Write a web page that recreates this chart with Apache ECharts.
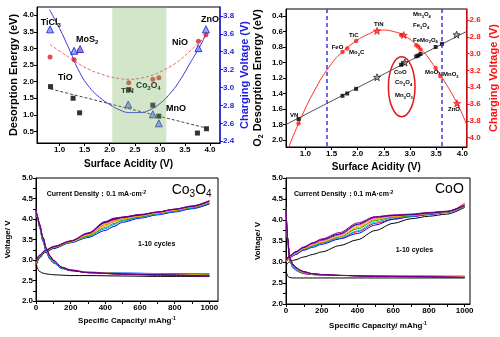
<!DOCTYPE html>
<html><head><meta charset="utf-8">
<script src="https://cdn.jsdelivr.net/npm/echarts@6/dist/echarts.min.js"></script>
<style>html,body{margin:0;padding:0;background:#fff}#c{width:500px;height:337px}</style>
</head><body><div id="c"></div>
<script>
const font = '"Liberation Sans", Arial, Helvetica, sans-serif';

// ---------------- Panel A (top-left) ----------------
const aTickX = [1.0, 1.5, 2.0, 2.5, 3.0, 3.5, 4.0];
const aTickYLeft = [0.5, 1.0, 1.5, 2.0, 2.5, 3.0, 3.5, 4.0];
const aTickYRight = [2.4, 2.6, 2.8, 3.0, 3.2, 3.4, 3.6, 3.8];
const aEnergyBlack = [[0.82,1.85],[1.27,1.50],[1.40,1.06],[2.38,1.76],[2.86,1.29],[2.98,0.96],[3.75,0.45],[3.93,0.58]];
const aEnergyRed = [[0.81,2.74],[1.29,2.66],[1.40,2.94],[2.38,1.97],[2.86,2.07],[2.98,2.12],[3.77,3.22],[3.92,3.41]];
const aVoltageBlue = [[0.81,3.65],[1.29,3.41],[1.41,3.43],[2.37,2.81],[2.86,2.70],[2.98,2.60],[3.77,3.44],[3.92,3.65]];
const aBlackFit = [[0.82,1.78],[3.93,0.60]];
const aRedFit = [[0.81,3.12],[1.0,2.92],[1.2,2.72],[1.4,2.52],[1.6,2.36],[1.8,2.24],[2.0,2.15],[2.2,2.09],[2.4,2.07],[2.6,2.10],[2.8,2.17],[3.0,2.29],[3.2,2.45],[3.4,2.65],[3.6,2.92],[3.8,3.2],[3.92,3.38]];
const aBlueFit = [[0.8,3.87],[1.0,3.66],[1.2,3.42],[1.4,3.17],[1.6,3.0],[1.8,2.89],[2.0,2.81],[2.2,2.75],[2.4,2.72],[2.6,2.72],[2.8,2.75],[3.0,2.82],[3.2,2.93],[3.4,3.08],[3.6,3.27],[3.8,3.46],[3.92,3.6]];
const aBand = [2.05, 3.13];

// ---------------- Panel B (top-right) ----------------
const bTickX = [1.0, 1.5, 2.0, 2.5, 3.0, 3.5, 4.0];
const bTickYLeft = [0.4, 0.6, 0.8, 1.0, 1.2, 1.4, 1.6, 1.8, 2.0];
const bTickYRight = [2.6, 2.8, 3.0, 3.2, 3.4, 3.6, 3.8, 4.0];
const bEnergySquares = [[0.87,1.73],[1.71,1.43],[1.80,1.40],[1.97,1.34],[2.83,1.03],[2.87,1.01],[3.12,0.92],[3.16,0.91],[3.20,0.89],[3.49,0.80],[3.61,0.76]];
const bEnergyStars = [[2.37,1.19],[2.90,1.00],[3.89,0.64]];
const bEnergyFit = [[0.63,1.80],[4.08,0.60]];
const bVoltageCircles = [[0.87,3.83],[1.71,2.98],[1.80,2.94],[1.97,2.85],[2.83,2.78],[3.12,2.90],[3.16,2.92],[3.20,2.95],[3.49,3.17],[3.58,3.27]];
const bVoltageStars = [[2.37,2.73],[2.88,2.78],[3.90,3.59]];
const bVoltageFit = [[0.66,4.15],[0.87,3.83],[1.2,3.41],[1.5,3.12],[1.71,2.98],[1.97,2.85],[2.2,2.77],[2.45,2.72],[2.7,2.74],[2.9,2.79],[3.2,2.94],[3.49,3.17],[3.6,3.27],[3.9,3.59],[4.08,3.84]];
const bDashX = [1.4, 3.6];

// ---------------- Panels C / D (bottom) ----------------
const capTickX = [0, 200, 400, 600, 800, 1000];
const capMinorX = [0, 100, 200, 300, 400, 500, 600, 700, 800, 900, 1000];
const voltTickY = [2.0, 2.5, 3.0, 3.5, 4.0, 4.5, 5.0];
const voltMinorY = [2.0, 2.25, 2.5, 2.75, 3.0, 3.25, 3.5, 3.75, 4.0, 4.25, 4.5, 4.75, 5.0];
const cycleColors = ['#000000','#ff0000','#0000ff','#00b0f0','#00a000','#ff9900','#e0d000','#ff00ff','#000080','#800080'];

const co3o4ChargeX = [0,20,50,100,200,300,400,450,500,600,700,800,900,1000];
const co3o4Charge = [
  [2.85,3.05,3.18,3.28,3.43,3.62,3.92,4.0,4.04,4.1,4.15,4.2,4.27,4.37],
  [2.88,3.07,3.19,3.29,3.44,3.61,3.86,3.95,4.01,4.08,4.15,4.21,4.28,4.40],
  [2.9,3.07,3.19,3.29,3.42,3.55,3.72,3.82,3.92,4.02,4.1,4.17,4.25,4.37],
  [2.91,3.08,3.2,3.3,3.43,3.57,3.76,3.86,3.95,4.04,4.12,4.19,4.27,4.39],
  [2.92,3.08,3.2,3.3,3.43,3.58,3.79,3.89,3.97,4.05,4.13,4.2,4.28,4.4],
  [2.93,3.09,3.2,3.31,3.44,3.6,3.83,3.93,4.0,4.07,4.14,4.21,4.29,4.41],
  [2.94,3.1,3.21,3.31,3.45,3.62,3.87,3.96,4.02,4.08,4.15,4.22,4.3,4.42],
  [2.95,3.1,3.21,3.32,3.46,3.64,3.9,3.98,4.03,4.09,4.16,4.23,4.3,4.43],
  [2.96,3.11,3.22,3.32,3.46,3.65,3.92,4.0,4.04,4.1,4.17,4.24,4.31,4.44],
  [2.97,3.12,3.23,3.33,3.47,3.66,3.94,4.02,4.05,4.11,4.17,4.24,4.32,4.45]
];
const co3o4DischargeX = [0,10,20,40,60,80,100,150,200,300,500,700,1000];
const co3o4Discharge = [
  [2.95,2.78,2.72,2.68,2.66,2.65,2.64,2.63,2.62,2.62,2.61,2.60,2.60],
  [4.22,4.02,3.84,3.5,3.22,3.05,2.95,2.8,2.74,2.69,2.66,2.64,2.61],
  [4.2,4.0,3.8,3.45,3.18,3.02,2.93,2.79,2.74,2.7,2.68,2.67,2.66],
  [4.2,4.0,3.81,3.47,3.2,3.04,2.94,2.8,2.75,2.7,2.68,2.67,2.66],
  [4.21,4.01,3.83,3.5,3.23,3.06,2.96,2.81,2.75,2.7,2.67,2.66,2.64],
  [4.21,4.02,3.85,3.53,3.26,3.09,2.98,2.82,2.76,2.7,2.67,2.65,2.63],
  [4.22,4.03,3.86,3.55,3.28,3.1,2.99,2.83,2.76,2.7,2.66,2.65,2.62],
  [4.22,4.03,3.86,3.54,3.27,3.1,2.99,2.82,2.76,2.7,2.66,2.64,2.61],
  [4.23,4.04,3.87,3.55,3.28,3.1,2.99,2.82,2.75,2.69,2.66,2.64,2.61],
  [4.24,4.05,3.88,3.56,3.29,3.11,3.0,2.82,2.75,2.69,2.65,2.63,2.6]
];

const cooChargeX = [0,20,50,100,150,200,300,400,500,600,700,800,900,1000];
const cooCharge = [
  [2.92,3.0,3.05,3.12,3.18,3.24,3.39,3.53,3.75,3.92,4.03,4.09,4.14,4.3],
  [3.0,3.1,3.18,3.3,3.38,3.45,3.56,3.72,3.92,4.02,4.08,4.13,4.18,4.4],
  [3.0,3.1,3.17,3.28,3.35,3.42,3.55,3.68,3.88,4.02,4.08,4.13,4.18,4.32],
  [3.0,3.11,3.19,3.3,3.37,3.44,3.57,3.74,3.95,4.05,4.09,4.14,4.18,4.32],
  [3.02,3.12,3.2,3.31,3.39,3.46,3.6,3.79,3.99,4.07,4.1,4.15,4.19,4.33],
  [3.02,3.12,3.2,3.32,3.4,3.47,3.61,3.82,4.01,4.08,4.11,4.15,4.19,4.33],
  [3.03,3.13,3.21,3.33,3.41,3.49,3.63,3.85,4.03,4.09,4.12,4.16,4.2,4.34],
  [3.03,3.13,3.22,3.34,3.43,3.51,3.65,3.88,4.05,4.1,4.12,4.16,4.2,4.34],
  [3.04,3.14,3.23,3.35,3.45,3.53,3.67,3.9,4.07,4.11,4.13,4.17,4.2,4.35],
  [3.05,3.15,3.24,3.36,3.46,3.55,3.7,3.93,4.08,4.12,4.14,4.18,4.21,4.36]
];
const cooDischargeX = [0,10,20,40,60,80,100,150,200,300,500,700,1000];
const cooDischarge = [
  [2.8,2.66,2.63,2.62,2.62,2.62,2.62,2.62,2.62,2.62,2.62,2.62,2.62],
  [4.2,3.45,3.02,2.86,2.79,2.75,2.72,2.7,2.69,2.68,2.67,2.66,2.65],
  [4.22,3.48,3.04,2.87,2.8,2.76,2.73,2.7,2.69,2.68,2.67,2.66,2.66],
  [4.23,3.5,3.05,2.88,2.8,2.76,2.73,2.71,2.69,2.68,2.67,2.66,2.66],
  [4.3,3.55,3.07,2.9,2.82,2.77,2.74,2.71,2.7,2.68,2.67,2.66,2.65],
  [4.24,3.52,3.08,2.91,2.83,2.78,2.75,2.71,2.7,2.68,2.67,2.66,2.65],
  [4.24,3.53,3.09,2.92,2.84,2.79,2.76,2.72,2.7,2.68,2.66,2.65,2.64],
  [4.25,3.54,3.1,2.93,2.85,2.8,2.76,2.72,2.7,2.68,2.66,2.65,2.64],
  [4.25,3.55,3.1,2.93,2.85,2.8,2.77,2.72,2.7,2.68,2.66,2.65,2.63],
  [4.26,3.56,3.11,2.94,2.86,2.81,2.77,2.72,2.7,2.68,2.66,2.65,2.63]
];

// ---------------- helpers ----------------
const STAR = 'path://M12,1 L15,9 L23,9 L17,14 L19,22 L12,17 L5,22 L7,14 L1,9 L9,9 Z';
function richSet(size, color, bold) {
  const w = bold === false ? 'normal' : 'bold';
  return {
    a: {fontSize: size, fontWeight: w, fontFamily: font, color: color, fill: color, lineHeight: Math.round(size * 1.25)},
    s: {fontSize: Math.max(4, Math.round(size * 0.68)), fontWeight: w, fontFamily: font, color: color, fill: color, verticalAlign: 'bottom'},
    p: {fontSize: Math.max(4, Math.round(size * 0.68)), fontWeight: w, fontFamily: font, color: color, fill: color, verticalAlign: 'top'}
  };
}
function chem(s) { // "Co_3O_4" -> rich tokens, "^" for superscript
  return '{a|' + s.replace(/_([0-9x]+)/g, '}{s|$1}{a|').replace(/\^([-0-9]+)/g, '}{p|$1}{a|') + '}';
}
function label(txt, x, y, size, color, z, bold) {
  return {type: 'text', x: x, y: y, z: z == null ? 30 : z, silent: true,
    style: {text: chem(txt), rich: richSet(size, color || '#000', bold), align: 'left', verticalAlign: 'middle'}};
}
function axisBase(o) {
  const color = o.color || '#000';
  return {
    type: 'value', gridIndex: o.grid, min: o.min, max: o.max, inverse: !!o.inverse,
    position: o.position,
    splitLine: {show: false},
    axisLine: {show: true, onZero: false, lineStyle: {color: color, width: o.lineWidth || 1}},
    axisTick: {show: true, length: 3, customValues: o.minor || o.ticks, lineStyle: {color: color}},
    axisLabel: {show: true, customValues: o.ticks, fontSize: 8, fontWeight: 'bold', fontFamily: font, color: color, margin: 3,
      formatter: o.fmt || (v => Number(v).toFixed(1))},
    name: o.name, nameLocation: 'middle', nameGap: o.nameGap, nameRotate: o.rotate,
    nameTextStyle: {rich: richSet(o.nameSize || 10, color)}
  };
}
function cycleSeries(xArr, cycles, xi, yi) {
  return cycles.map((vals, i) => ({
    type: 'line', xAxisIndex: xi, yAxisIndex: yi, symbol: 'none', smooth: 0.3, smoothMonotone: 'x',
    lineStyle: {color: cycleColors[i], width: 1}, itemStyle: {color: cycleColors[i]},
    data: xArr.map((x, j) => [x, vals[j]]), z: 3 + i * 0.01, silent: true
  }));
}

const chart = echarts.init(document.getElementById('c'), null, {renderer: 'canvas'});
const option = {
  animation: false,
  backgroundColor: '#fff',
  grid: [
    {left: 37, top: 7, width: 183, height: 136, show: true, borderColor: '#000', borderWidth: 1},
    {left: 286, top: 9, width: 182, height: 138, show: true, borderColor: '#000', borderWidth: 1},
    {left: 36, top: 178, width: 182, height: 123, show: true, borderColor: '#000', borderWidth: 1},
    {left: 286, top: 178, width: 184, height: 126, show: true, borderColor: '#000', borderWidth: 1}
  ],
  xAxis: [
    axisBase({grid: 0, min: 0.55, max: 4.2, ticks: aTickX, name: chem('Surface Acidity (V)'), nameGap: 15, nameSize: 10}),
    axisBase({grid: 1, min: 0.63, max: 4.08, ticks: bTickX, name: chem('Surface Acidity (V)'), nameGap: 14, nameSize: 10}),
    axisBase({grid: 2, min: 0, max: 1050, ticks: capTickX, minor: capMinorX, fmt: v => String(v), name: chem('Specific Capacity/ mAhg^-1'), nameGap: 15, nameSize: 8}),
    axisBase({grid: 3, min: 0, max: 1030, ticks: capTickX, minor: capMinorX, fmt: v => String(v), name: chem('Specific Capacity/ mAhg^-1'), nameGap: 17, nameSize: 8})
  ],
  yAxis: [
    axisBase({grid: 0, min: 0.15, max: 4.25, ticks: aTickYLeft, name: chem('Desorption Energy (eV)'), nameGap: 16, rotate: 90, nameSize: 11}),
    axisBase({grid: 0, min: 2.38, max: 3.9, ticks: aTickYRight, position: 'right', color: '#2020e0', lineWidth: 1.5, name: chem('Charging Voltage (V)'), nameGap: 18, rotate: 90, nameSize: 11}),
    axisBase({grid: 1, min: 0.31, max: 2.09, inverse: true, ticks: bTickYLeft, name: chem('O_2 Desorption Energy (eV)'), nameGap: 21, rotate: 90, nameSize: 11}),
    axisBase({grid: 1, min: 2.47, max: 4.11, inverse: true, ticks: bTickYRight, position: 'right', color: '#ff1010', lineWidth: 1.5, name: chem('Charging Voltage (V)'), nameGap: 20, rotate: 90, nameSize: 11}),
    axisBase({grid: 2, min: 2, max: 5, ticks: voltTickY, minor: voltMinorY, name: chem('Voltage/ V'), nameGap: 23, rotate: 90, nameSize: 8}),
    axisBase({grid: 3, min: 2, max: 5, ticks: voltTickY, minor: voltMinorY, name: chem('Voltage/ V'), nameGap: 23, rotate: 90, nameSize: 8})
  ],
  series: [
    // Panel A
    {type: 'line', xAxisIndex: 0, yAxisIndex: 0, data: aBlackFit, symbol: 'none', lineStyle: {color: '#444', width: 1, type: [3, 2]}, z: 2},
    {type: 'line', xAxisIndex: 0, yAxisIndex: 0, data: aRedFit, symbol: 'none', smooth: true, lineStyle: {color: '#ee5a5a', width: 1, type: [3, 2]}, z: 2},
    {type: 'line', xAxisIndex: 0, yAxisIndex: 1, data: aBlueFit, symbol: 'none', smooth: true, lineStyle: {color: '#3434e4', width: 1}, z: 2},
    {type: 'scatter', xAxisIndex: 0, yAxisIndex: 0, data: aEnergyBlack, symbol: 'rect', symbolSize: 5, itemStyle: {color: '#000'}, z: 4},
    {type: 'scatter', xAxisIndex: 0, yAxisIndex: 0, data: aEnergyRed, symbol: 'circle', symbolSize: 5, itemStyle: {color: '#e01c28'}, z: 4},
    {type: 'scatter', xAxisIndex: 0, yAxisIndex: 1, data: aVoltageBlue, symbol: 'triangle', symbolSize: 7, itemStyle: {color: '#8090f4', borderColor: '#1818cc', borderWidth: 1}, z: 5},
    {type: 'custom', xAxisIndex: 0, yAxisIndex: 0, z: 10, silent: true, clip: true,
      data: [[aBand[0], aBand[1], 1]], encode: {x: [0, 1], y: 2},
      renderItem: function (params, api) {
        const x0 = api.coord([api.value(0), 1])[0];
        const x1 = api.coord([api.value(1), 1])[0];
        const cs = params.coordSys;
        return {type: 'rect', shape: {x: x0, y: cs.y, width: x1 - x0, height: cs.height}, style: {fill: 'rgba(125,180,95,0.33)'}};
      }},
    // Panel B
    {type: 'line', xAxisIndex: 1, yAxisIndex: 2, data: bEnergyFit, symbol: 'none', lineStyle: {color: '#555', width: 1}, z: 2,
      markLine: {silent: true, symbol: 'none', label: {show: false}, lineStyle: {color: '#3a3ae0', width: 1.5, type: [4, 3]},
        data: bDashX.map(x => ({xAxis: x}))}},
    {type: 'line', xAxisIndex: 1, yAxisIndex: 3, data: bVoltageFit, symbol: 'none', smooth: true, lineStyle: {color: '#ff2a2a', width: 1}, z: 2},
    {type: 'scatter', xAxisIndex: 1, yAxisIndex: 2, data: bEnergySquares, symbol: 'rect', symbolSize: 4, itemStyle: {color: '#000'}, z: 4},
    {type: 'scatter', xAxisIndex: 1, yAxisIndex: 2, data: bEnergyStars, symbol: STAR, symbolSize: 7, itemStyle: {color: '#9a9a9a', borderColor: '#000', borderWidth: 0.8}, z: 4},
    {type: 'scatter', xAxisIndex: 1, yAxisIndex: 3, data: bVoltageCircles, symbol: 'circle', symbolSize: 4.5, itemStyle: {color: '#ff1a1a'}, z: 4},
    {type: 'scatter', xAxisIndex: 1, yAxisIndex: 3, data: bVoltageStars, symbol: STAR, symbolSize: 7, itemStyle: {color: '#ff3030', borderColor: '#dd0000', borderWidth: 0.8}, z: 4}
  ].concat(
    cycleSeries(co3o4ChargeX, co3o4Charge, 2, 4),
    cycleSeries(co3o4DischargeX, co3o4Discharge, 2, 4),
    cycleSeries(cooChargeX, cooCharge, 3, 5),
    cycleSeries(cooDischargeX, cooDischarge, 3, 5)
  ),
  graphic: [
    // Panel A labels
    label('TiCl_3', 40.7, 23, 9),
    label('MoS_2', 76, 39.5, 9),
    label('TiO', 58, 78, 9),
    label('TiN', 121, 91, 8, '#000', 1),
    label('Co_3O_4', 136, 86, 8.5, '#000', 1),
    label('MnO', 166, 108.5, 9),
    label('NiO', 172, 43, 9),
    label('ZnO', 201, 20, 9),
    // Panel B labels
    label('VN', 290, 115, 6),
    label('FeO', 331.7, 47, 6),
    label('Mo_2C', 349, 52.5, 6),
    label('TiC', 349, 35, 6),
    label('TiN', 374, 24, 6),
    label('Mn_3O_4', 413, 14.5, 6),
    label('Fe_3O_4', 413, 25.5, 6),
    label('FeMo_2O_4', 413, 40, 6),
    label('CoO', 394, 72, 6),
    label('Co_3O_4', 395, 82.5, 6),
    label('Mn_2O_3', 395, 95.5, 6),
    label('MoO_3', 425, 72, 6),
    label('MnO_2', 443, 74.5, 6),
    label('ZnO', 448, 109.5, 6),
    {type: 'ellipse', z: 30, silent: true, shape: {cx: 401.7, cy: 86.7, rx: 13.3, ry: 30}, style: {fill: 'none', stroke: '#e01818', lineWidth: 1.5}},
    // Panel C / D texts
    label('Current Density：0.1 mA·cm^-2', 46.7, 194.5, 7),
    label('Co_3O_4', 171.7, 190, 14, '#000', 30, false),
    label('1-10 cycles', 138, 244.5, 7),
    label('Current Density：0.1 mA·cm^-2', 294, 194.5, 7),
    label('CoO', 435, 189, 14, '#000', 30, false),
    label('1-10 cycles', 395.7, 250.5, 7)
  ]
};
chart.setOption(option);
</script>
</body></html>
